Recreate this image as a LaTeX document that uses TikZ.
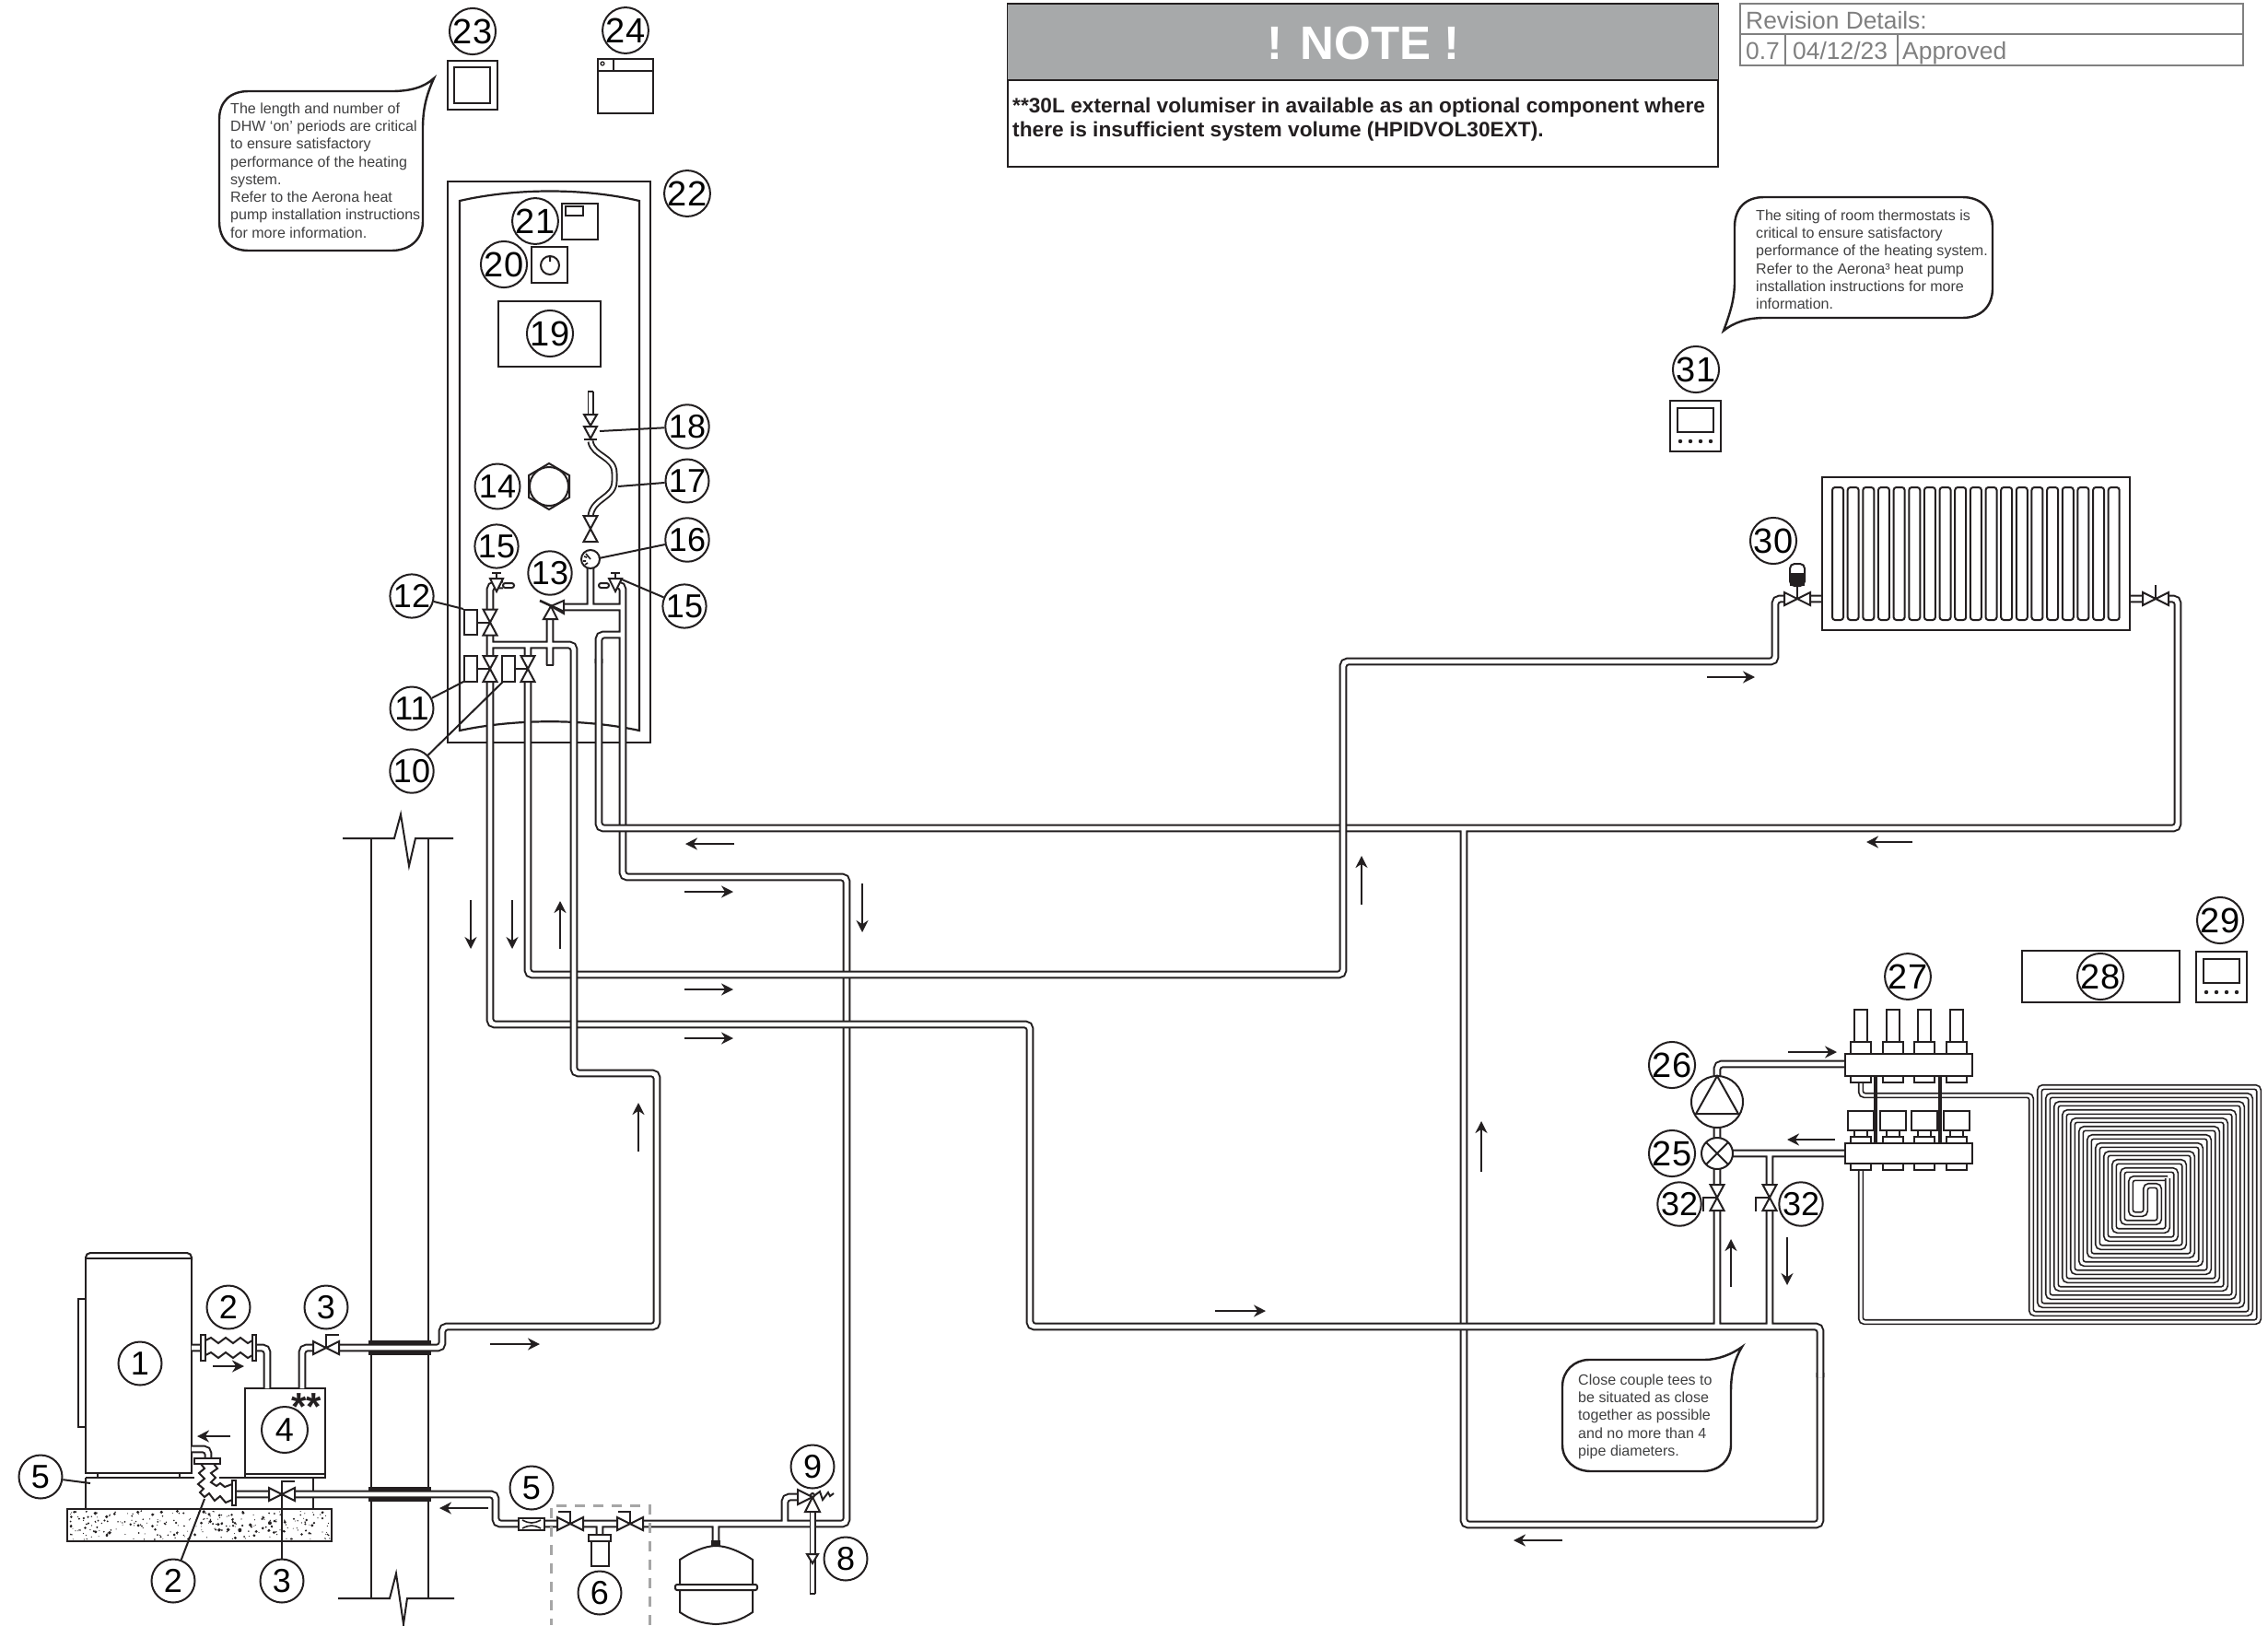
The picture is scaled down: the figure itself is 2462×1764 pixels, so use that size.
\documentclass[tikz,border=0pt]{standalone}
\usepackage{fontspec}
\setmainfont{Liberation Sans}
\usetikzlibrary{arrows.meta}
\definecolor{ink}{HTML}{231F20}
\definecolor{notegray}{HTML}{A7A9AA}
\definecolor{revgray}{HTML}{808080}
\definecolor{txtgray}{HTML}{404041}
\tikzset{
  comp/.style={draw=ink,line width=2pt,fill=white},
  thin line/.style={draw=ink,line width=2pt},
  pipeO/.style={draw=ink,line width=8.9pt,rounded corners=5pt},
  pipeI/.style={draw=white,line width=4.9pt,rounded corners=5pt},
  narrowO/.style={draw=ink,line width=7pt,rounded corners=4pt},
  narrowI/.style={draw=white,line width=3.2pt,rounded corners=4pt},
  coilO/.style={draw=ink,line width=6.4pt,rounded corners=4pt},
  coilI/.style={draw=white,line width=3pt,rounded corners=4pt},
  flow/.style={draw=ink,line width=2pt,-{Stealth[length=13pt,width=13pt]}},
  lab/.style={circle,draw=ink,line width=2pt,fill=white,inner sep=0pt,minimum size=47pt,text=black,font=\fontsize{36}{36}\selectfont},
  labbig/.style={lab,minimum size=49pt,font=\fontsize{38}{38}\selectfont},
  leader/.style={draw=ink,line width=2pt},
  bubble/.style={draw=ink,line width=2.4pt,fill=white},
  bubtext/.style={anchor=north west,inner sep=0pt,align=left,text=txtgray,font=\fontsize{16.05}{19.25}\selectfont},
  revtext/.style={anchor=base west,inner sep=0pt,text=revgray,font=\fontsize{26.4}{26.4}\selectfont},
  vh/.pic={\fill[white] (-13,-6) rectangle (13,6);
    \draw[comp,fill=none] (-14,-7)--(14,7)--(14,-7)--(-14,7)--cycle;},
  vv/.pic={\fill[white] (-6,-13) rectangle (6,13);
    \draw[comp,fill=none] (-7.5,-14)--(7.5,14)--(-7.5,14)--(7.5,-14)--cycle;},
  stat/.pic={\draw[comp] (0,0) rectangle (55,55);
    \draw[comp] (8,8) rectangle (47,34);
    \foreach \q in {11,22,33,44}{\fill[ink] (\q,44) circle[radius=2.2];}},
}
\newcommand\pipenet[1]{\draw[pipeO] #1; \draw[pipeI] #1;}
\newcommand\narrownet[1]{\draw[narrowO] #1; \draw[narrowI] #1;}
\newcommand\coilnet[1]{\draw[coilO] #1; \draw[coilI] #1;}
\begin{document}
\begin{tikzpicture}[x=1pt,y=-1pt]
\useasboundingbox (0,0) rectangle (2462,1764);
\fill[white] (0,0) rectangle (2462,1764);

% --- note and revision boxes
\draw[ink,line width=1.4pt] (1094,4) rectangle (1865,181);
\fill[notegray] (1094,4) rectangle (1865,87);
\draw[ink,line width=1.6pt] (1094,4)--(1865,4) (1094,87)--(1865,87);
\node[inner sep=0pt,text=white,font=\bfseries\fontsize{51}{51}\selectfont] (notehead) at (1480,47) {! NOTE !};
\node[anchor=base west,inner sep=0pt,font=\bfseries\fontsize{22.7}{22.7}\selectfont,text=ink] (note1) at (1099,122) {**30L external volumiser in available as an optional component where};
\node[anchor=base west,inner sep=0pt,font=\bfseries\fontsize{22.7}{22.7}\selectfont,text=ink] (note2) at (1099,148) {there is insufficient system volume (HPIDVOL30EXT).};
\draw[revgray,line width=2pt] (1889,4) rectangle (2435,71) (1889,37)--(2435,37) (1938,37)--(1938,71) (2060,37)--(2060,71);
\node[revtext] (rev0) at (1895,31) {Revision Details:};
\node[revtext] (rev1) at (1895,64) {0.7};
\node[revtext] (rev2) at (1946,64) {04/12/23};
\node[revtext] (rev3) at (2065,64) {Approved};

% --- wall
\draw[thin line] (403,910)--(403,1735) (465,910)--(465,1735);
\draw[thin line] (372,910)--(428,910)--(435,884)--(444,940)--(451,910)--(492,910);
\draw[thin line] (367,1735)--(423,1735)--(430,1708)--(438,1763)--(442,1735)--(493,1735);

% --- outdoor unit, volumiser, base
\draw[comp] (85,1410) rectangle (93,1549);
\draw[comp,rounded corners=5pt] (93,1368)--(93,1360)--(208,1360)--(208,1368);
\draw[comp] (93,1366) rectangle (208,1599);
\draw[thin line] (93,1604)--(270,1604) (93,1604)--(93,1638) (106,1599)--(106,1604) (195,1599)--(195,1604);
\draw[comp] (266,1507) rectangle (353,1600);
\draw[comp] (266,1600) rectangle (353,1604);
\draw[thin line] (340,1604)--(340,1638);
\draw[comp] (73,1638) rectangle (360,1673);
\pgfmathsetseed{42}
\foreach \i in {1,...,280}{
  \pgfmathsetmacro\sx{75+rnd*283}
  \pgfmathsetmacro\sy{1640+rnd*31}
  \pgfmathsetmacro\sr{0.5+rnd*rnd*1.7}
  \fill[ink] (\sx,\sy) circle[radius=\sr];
}

% --- cylinder outline (pipes run over it)
\draw[ink,line width=2.2pt] (486,197) rectangle (706,806);
\draw[ink,line width=2.2pt] (499,218) .. controls (560,204) and (634,204) .. (694,218) -- (694,793) .. controls (634,780) and (560,780) .. (499,793) -- cycle;

% --- pipes round the unit
\pipenet{(208,1463)--(218,1463) (278,1463)--(290,1463)--(290,1507) (328,1507)--(328,1463)--(340,1463) (208,1573)--(226,1573)--(226,1583)}

% --- flow circuit, network by network (order gives the crossings)
\pipenet{(670,635)--(676,635)--(676,952)--(919,952)--(919,1654)--(538,1654)--(538,1622)--(256,1622) (612,659)--(676,659) (641,617)--(641,659) (676,689)--(650,689)--(650,720) (777,1654)--(777,1678) (852,1654)--(852,1625)--(866,1625) (651,1654)--(651,1666)}
\pipenet{(650,715)--(650,899)--(2364,899)--(2364,650)--(2353,650) (1589,899)--(1589,1655)--(1976,1655)--(1976,1490)}
\pipenet{(573,740)--(573,1058)--(1458,1058)--(1458,718)--(1927,718)--(1927,650)--(1937,650)}
\pipenet{(532,740)--(532,1112)--(1118,1112)--(1118,1440)--(1976,1440)--(1976,1495) (1864,1440)--(1864,1315) (1921,1440)--(1921,1315)}
\pipenet{(368,1463)--(480,1463)--(480,1440)--(713,1440)--(713,1165)--(623,1165)--(623,700)--(532,700) (532,689)--(532,712) (597,672)--(597,722) (573,700)--(573,712) (546,635)--(532,635)--(532,662)}
\draw[ink,line width=2pt] (593,722)--(601,722);
\pipenet{(1864,1168)--(1864,1155)--(2003,1155) (1864,1224)--(1864,1236) (1864,1268)--(1864,1287) (1881,1252)--(2003,1252) (1921,1252)--(1921,1287) (1966,650)--(1978,650) (2312,650)--(2326,650)}

% --- wall sleeves
\draw[ink,line width=3.2pt] (400,1457)--(468,1457) (400,1469)--(468,1469) (400,1616)--(468,1616) (400,1628)--(468,1628);

% --- flexible connections
\fill[white] (211,1589) rectangle (238,1632);
\fill[white] (222,1608) rectangle (252,1634);
\draw[comp] (218,1449) rectangle (223,1477);
\draw[comp] (274,1449) rectangle (278,1477);
\draw[thin line] (223,1455)--(229,1452)--(237,1458)--(245,1452)--(253,1458)--(261,1452)--(269,1458)--(274,1455);
\draw[thin line] (223,1471)--(229,1468)--(237,1474)--(245,1468)--(253,1474)--(261,1468)--(269,1474)--(274,1471);
\draw[comp] (211,1583) rectangle (239,1589);
\draw[comp] (252,1607) rectangle (256,1634);
\draw[thin line] (218,1589)--(222,1594)--(216,1599)--(222,1605)--(215,1611)--(221,1616)--(217,1620)--(222,1625)--(227,1621)--(233,1629)--(239,1624)--(245,1631)--(252,1628);
\draw[thin line] (232,1589)--(236,1594)--(229,1599)--(234,1604)--(229,1609)--(235,1613)--(239,1610)--(244,1614)--(252,1611);

% --- valves beside the unit
\pic at (354,1463) {vh};
\draw[thin line] (354,1463)--(354,1449)--(368,1449);
\pic at (306,1622) {vh};
\draw[thin line] (306,1622)--(306,1608)--(320,1608);

% --- fill group by the wall
\draw[comp] (563,1648) rectangle (591,1661);
\draw[ink,line width=1.6pt] (567,1650) .. controls (575,1654) and (579,1654) .. (587,1650) (567,1659) .. controls (575,1655) and (579,1655) .. (587,1659);
\pic at (619,1654) {vh};
\draw[thin line] (619,1654)--(619,1641)--(606,1641);
\pic at (684,1654) {vh};
\draw[thin line] (684,1654)--(684,1641)--(671,1641);
\draw[comp] (642,1673) rectangle (661,1700);
\draw[comp] (639,1666) rectangle (663,1673);
\draw[revgray!70!white,line width=3pt,dash pattern=on 11pt off 9pt] (705,1764)--(705,1634)--(598,1634)--(598,1764);

% --- expansion vessel
\fill[ink] (772,1672) rectangle (782,1678);
\draw[comp] (738,1693) .. controls (750,1685) and (765,1678) .. (777,1678) .. controls (790,1678) and (805,1685) .. (817,1693) -- (817,1750) .. controls (805,1758) and (795,1762) .. (777,1763) .. controls (760,1762) and (750,1758) .. (738,1750) -- cycle;
\draw[comp,rounded corners=2pt] (733,1720) rectangle (822,1726);

% --- relief valve and drain
\narrownet{(882,1641)--(882,1730)}
\draw[ink,line width=2pt] (879,1730)--(885,1730);
\draw[comp] (866,1617)--(882,1625)--(866,1633)--cycle;
\draw[comp] (882,1625)--(890,1641)--(874,1641)--cycle;
\draw[comp] (876,1687)--(888,1687)--(882,1697)--cycle;
\draw[thin line] (882,1625)--(890,1619)--(893,1628)--(899,1620)--(901,1624)--(905,1621);
\draw[comp] (882,1623) circle[radius=2];

% --- cylinder contents
\draw[comp] (610,221) rectangle (649,260);
\draw[comp] (614,224) rectangle (633,234);
\draw[comp] (577,268) rectangle (616,307);
\draw[ink,line width=2pt] (597,288) circle[radius=10] (597,278)--(597,284);
\draw[comp] (541,327) rectangle (652,398);
\draw[comp] (596,503)--(618,516)--(618,540)--(596,553)--(574,540)--(574,516)--cycle;
\draw[thin line] (596,528) circle[radius=21];

% --- fill hose on the cylinder
\narrownet{(641,425)--(641,450)}
\draw[ink,line width=2pt] (638,425)--(644,425);
\draw[comp] (634,450)--(648,450)--(641,462)--cycle;
\draw[comp] (634,463)--(648,463)--(641,476)--cycle;
\draw[thin line] (634,477)--(648,477);
\narrownet{(641,479) .. controls (644,496) and (667,495) .. (667,518) .. controls (667,541) and (644,540) .. (641,560)}
\pic at (641,574) {vv};
\draw[comp] (641,607) circle[radius=10];
\draw[ink,line width=1.6pt] (641,607)--(636,601) (634,604)--(637,605) (633,609)--(636,609) (635,613)--(638,611);

% --- cylinder valves
\draw[comp] (612,652)--(598,658)--(612,666)--cycle;
\draw[comp] (590,672)--(605,672)--(598,658)--cycle;
\draw[ink,line width=2.6pt] (586,652)--(612,664);
\pic at (532,675.5) {vv};
\draw[comp] (504,662) rectangle (518,689);
\draw[thin line] (518,675.5)--(532,675.5);
\pic at (532,726) {vv};
\draw[comp] (504,712) rectangle (518,740);
\draw[thin line] (518,726)--(532,726);
\pic at (573,726) {vv};
\draw[comp] (545,712) rectangle (559,740);
\draw[thin line] (559,726)--(573,726);
\draw[comp] (532,628)--(546,628)--(539,642)--cycle;
\draw[thin line] (539,628)--(539,622) (534,622)--(544,622);
\draw[comp,rounded corners=2.4pt] (546,633) rectangle (558,638);
\draw[comp] (661,628)--(675,628)--(668,642)--cycle;
\draw[thin line] (668,628)--(668,622) (663,622)--(673,622);
\draw[comp,rounded corners=2.4pt] (650,633) rectangle (661,638);

% --- top controls
\draw[comp] (486,66) rectangle (540,119);
\draw[comp] (493,73) rectangle (532,112);
\draw[comp] (649,64) rectangle (709,123);
\draw[thin line] (649,77)--(709,77) (666,64)--(666,77);
\draw[ink,line width=1.2pt] (654,69) circle[radius=2];

% --- radiator
\draw[comp] (1978,518) rectangle (2312,684);
\foreach \f in {0,...,18}{
  \draw[comp,rounded corners=3pt] ({1989+16.65*\f},529) rectangle ({2001+16.65*\f},673);
}
\pic at (1951,650) {vh};
\draw[thin line] (1951,650)--(1951,635);
\draw[comp,rounded corners=5pt] (1943,636)--(1943,612)--(1959,612)--(1959,636)--cycle;
\fill[ink] (1943,622) rectangle (1959,636);
\pic at (2340,650) {vh};
\draw[thin line] (2340,650)--(2340,635);

% --- underfloor coil
\coilnet{(2020,1270)--(2020,1435)--(2452,1435)--(2452,1180)--(2214,1180)--(2214,1417)--(2434,1417)--(2434,1198)--(2232,1198)--(2232,1399)--(2416,1399)--(2416,1216)--(2250,1216)--(2250,1381)--(2398,1381)--(2398,1234)--(2268,1234)--(2268,1363)--(2380,1363)--(2380,1252)--(2286,1252)--(2286,1345)--(2362,1345)--(2362,1270)--(2304,1270)--(2304,1327)--(2344,1327)--(2344,1287)--(2329,1287)--(2329,1318)--(2313,1318)--(2313,1279)--(2353,1279)}
\coilnet{(2020,1175)--(2020,1189)--(2205,1189)--(2205,1426)--(2443,1426)--(2443,1189)--(2223,1189)--(2223,1408)--(2425,1408)--(2425,1207)--(2241,1207)--(2241,1390)--(2407,1390)--(2407,1225)--(2259,1225)--(2259,1372)--(2389,1372)--(2389,1243)--(2277,1243)--(2277,1354)--(2371,1354)--(2371,1261)--(2295,1261)--(2295,1336)--(2353,1336)--(2353,1279)}

% --- manifold
\draw[ink,line width=3.6pt] (2036,1168)--(2036,1241) (2106,1168)--(2106,1241);
\foreach \m in {2020,2054.5,2089,2123.5}{
  \draw[comp] ({\m-7},1096) rectangle ({\m+7},1131);
  \draw[comp] ({\m-11},1131) rectangle ({\m+11},1144);
  \draw[comp] ({\m-11},1168) rectangle ({\m+11},1175);
  \draw[comp] ({\m-14},1206) rectangle ({\m+14},1227);
  \draw[comp] ({\m-7},1227) rectangle ({\m+7},1234);
  \draw[comp] ({\m-11},1234) rectangle ({\m+11},1241);
  \draw[comp] ({\m-11},1263) rectangle ({\m+11},1270);
}
\draw[comp] (2003,1144) rectangle (2141,1168);
\draw[comp] (2003,1241) rectangle (2141,1263);

% --- pump, mixing valve, isolators
\draw[comp] (1864,1196) circle[radius=28];
\draw[thin line] (1864,1168)--(1841,1209)--(1887,1209)--cycle;
\draw[comp] (1864,1252) circle[radius=17];
\draw[thin line] (1852,1240)--(1876,1264) (1876,1240)--(1852,1264);
\pic at (1864,1300) {vv};
\draw[thin line] (1864,1300)--(1849,1300)--(1849,1315);
\pic at (1921,1300) {vv};
\draw[thin line] (1921,1300)--(1906,1300)--(1906,1315);

% --- controls on the right
\draw[comp] (2195,1032) rectangle (2366,1088);
\pic at (2384,1033) {stat};
\pic at (1813,435) {stat};

% --- speech bubbles
\draw[bubble] (270,99) -- (425,99) .. controls (445,99) and (460,95) .. (471,85) .. controls (462,105) and (459,120) .. (459,140) -- (459,240) .. controls (459,260) and (445,272) .. (425,272) -- (270,272) .. controls (250,272) and (238,260) .. (238,240) -- (238,130) .. controls (238,110) and (250,99) .. (270,99) -- cycle;
\node[bubtext] (b1) at (250,111.5) {The length and number of\\DHW ‘on’ periods are critical\\to ensure satisfactory\\performance of the heating\\system.\\Refer to the Aerona heat\\pump installation instructions\\for more information.};
\draw[bubble] (1915,214) -- (2130,214) .. controls (2150,214) and (2163,226) .. (2163,246) -- (2163,313) .. controls (2163,333) and (2150,345) .. (2130,345) -- (1915,345) .. controls (1897,345) and (1882,350) .. (1871,359) .. controls (1878,340) and (1883,325) .. (1883,305) -- (1883,246) .. controls (1883,226) and (1895,214) .. (1915,214) -- cycle;
\node[bubtext] (b2) at (1906,227.5) {The siting of room thermostats is\\critical to ensure satisfactory\\performance of the heating system.\\Refer to the Aerona³ heat pump\\installation instructions for more\\information.};
\draw[bubble] (1725,1476) -- (1850,1476) .. controls (1865,1476) and (1880,1470) .. (1891,1462) .. controls (1883,1475) and (1879,1490) .. (1879,1510) -- (1879,1568) .. controls (1879,1585) and (1866,1597) .. (1848,1597) -- (1727,1597) .. controls (1709,1597) and (1696,1585) .. (1696,1568) -- (1696,1505) .. controls (1696,1488) and (1709,1476) .. (1725,1476) -- cycle;
\node[bubtext] (b3) at (1713,1491.5) {Close couple tees to\\be situated as close\\together as possible\\and no more than 4\\pipe diameters.};

% --- flow arrows
\draw[flow] (231,1483)--(265,1483);
\draw[flow] (250,1559)--(214,1559);
\draw[flow] (532,1459)--(586,1459);
\draw[flow] (530,1637)--(477,1637);
\draw[flow] (693,1250)--(693,1197);
\draw[flow] (511,977)--(511,1030);
\draw[flow] (556,977)--(556,1030);
\draw[flow] (608,1030)--(608,978);
\draw[flow] (797,916)--(744,916);
\draw[flow] (743,968)--(796,968);
\draw[flow] (936,959)--(936,1012);
\draw[flow] (743,1074)--(796,1074);
\draw[flow] (743,1127)--(796,1127);
\draw[flow] (1319,1423)--(1374,1423);
\draw[flow] (1478,982)--(1478,929);
\draw[flow] (1853,735)--(1905,735);
\draw[flow] (2076,914)--(2026,914);
\draw[flow] (1608,1272)--(1608,1217);
\draw[flow] (1696,1672)--(1643,1672);
\draw[flow] (1879,1397)--(1879,1345);
\draw[flow] (1940,1343)--(1940,1395);
\draw[flow] (1941,1142)--(1994,1142);
\draw[flow] (1992,1237)--(1940,1237);

% --- stars on the volumiser
\node[inner sep=0pt,font=\bfseries\fontsize{42}{42}\selectfont,text=ink] (stars) at (333,1527) {**};

% --- numbered callouts
\node[lab] (L1) at (152,1480) {1};
\node[lab] (L2a) at (248,1419) {2};
\node[lab] (L2b) at (188,1716) {2};
\node[lab] (L3a) at (354,1419) {3};
\node[lab] (L3b) at (306,1716) {3};
\node[lab,minimum size=50pt] (L4) at (309,1552) {4};
\node[lab] (L5a) at (44,1603) {5};
\node[lab] (L5b) at (577,1615) {5};
\node[lab] (L6) at (651,1729) {6};
\node[lab] (L8) at (918,1692) {8};
\node[lab] (L9) at (882,1592) {9};
\node[lab] (L10) at (447,837) {10};
\node[lab] (L11) at (447,769) {11};
\node[lab] (L12) at (447,647) {12};
\node[lab] (L13) at (597,622) {13};
\node[lab,minimum size=49pt] (L14) at (540,528) {14};
\node[lab,minimum size=46pt] (L15a) at (539,593) {15};
\node[lab,minimum size=46pt] (L15b) at (743,658) {15};
\node[lab] (L16) at (746,586) {16};
\node[lab] (L17) at (746,522) {17};
\node[lab] (L18) at (746,463) {18};
\node[labbig] (L19) at (597,362) {19};
\node[labbig] (L20) at (547,287) {20};
\node[labbig] (L21) at (581,240) {21};
\node[labbig] (L22) at (746,210) {22};
\node[labbig,minimum size=50pt] (L23) at (513,34) {23};
\node[labbig] (L24) at (679,33) {24};
\node[labbig] (L25) at (1815,1252) {25};
\node[labbig] (L26) at (1815,1156) {26};
\node[labbig] (L27) at (2071,1060) {27};
\node[labbig] (L28) at (2280,1060) {28};
\node[labbig] (L29) at (2410,999) {29};
\node[labbig] (L30) at (1925,587) {30};
\node[labbig] (L31) at (1841,401) {31};
\node[lab,minimum size=45pt] (L32a) at (1823,1307) {32};
\node[lab,minimum size=45pt] (L32b) at (1955,1307) {32};

% --- leaders
\coordinate (e5) at (98,1610);
\coordinate (e2) at (222,1627);
\coordinate (e3) at (306,1622);
\coordinate (e10) at (546,740);
\coordinate (e11) at (505,739);
\coordinate (e12) at (503,661);
\coordinate (e15) at (675,629);
\coordinate (e16) at (650,606);
\coordinate (e17) at (671,528);
\coordinate (e18) at (651,468);
\draw[leader] (L5a)--(e5);
\draw[leader] (L2b)--(e2);
\draw[leader] (L3b)--(e3);
\draw[leader] (L10)--(e10);
\draw[leader] (L11)--(e11);
\draw[leader] (L12)--(e12);
\draw[leader] (L15b)--(e15);
\draw[leader] (L16)--(e16);
\draw[leader] (L17)--(e17);
\draw[leader] (L18)--(e18);
\end{tikzpicture}
\end{document}
